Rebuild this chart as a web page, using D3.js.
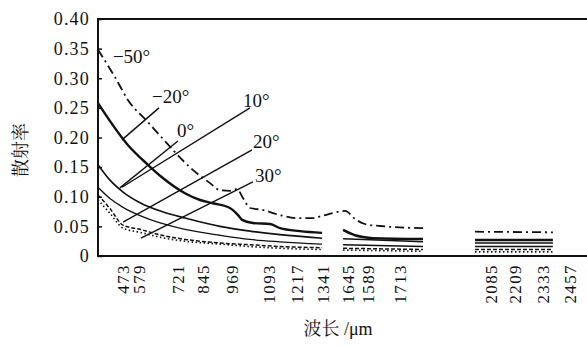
<!DOCTYPE html>
<html>
<head>
<meta charset="utf-8">
<script src="https://cdn.jsdelivr.net/npm/d3@7"></script>
<style>
  body { margin: 0; background: #fff; }
  svg { display: block; }
  text { font-family: "Liberation Serif", "Times New Roman", serif; fill: #111; }
  .cjk { font-family: "Noto Serif CJK SC", "Noto Sans CJK SC", serif; }
</style>
</head>
<body>
<svg width="587" height="346"></svg>
<script>
// wavelength (nm) where each tick label sits, and the label printed there
const tickAt = [478, 549, 724, 835, 963, 1123, 1251, 1362, 1477, 1565, 1707, 2106, 2216, 2340, 2459];
const tickLabels = ['473', '579', '721', '845', '969', '1093', '1217', '1341', '1645', '1589', '1713', '2085', '2209', '2333', '2457'];
const yTicks = [0, 0.05, 0.10, 0.15, 0.20, 0.25, 0.30, 0.35, 0.40];

// scattering rate per viewing angle, [wavelength, value]; null = removed band
const m50 = [[370,.348],[445,.302],[503,.263],[591,.226],[645,.203],[791,.145],[866,.123],[910,.111],[954,.110],[985,.113],[1012,.098],[1043,.081],[1096,.078],[1176,.069],[1251,.064],[1317,.064],[1362,.0675],[1410,.0726],[1464,.076],[1508,.0624],[1552,.054],[1619,.0506],[1809,.047],null,[2039,.041],[2384,.040]];
const m20 = [[370,.258],[503,.187],[591,.154],[653,.133],[755,.106],[822,.0945],[879,.089],[954,.081],[990,.069],[1008,.061],[1056,.0557],[1132,.054],[1176,.047],[1264,.042],[1362,.039],null,[1455,.044],[1508,.035],[1543,.032],[1588,.030],[1809,.0287],null,[2039,.027],[2384,.027]];
const p0 = [[370,.154],[423,.128],[481,.108],[556,.090],[653,.075],[755,.064],[910,.050],[1043,.042],[1176,.036],[1362,.030],null,[1455,.029],[1809,.024],null,[2039,.022],[2384,.022]];
const p10 = [[370,.116],[423,.097],[481,.082],[556,.068],[653,.055],[755,.045],[910,.035],[1043,.028],[1176,.024],[1362,.020],null,[1455,.019],[1809,.016],null,[2039,.016],[2384,.016]];
const p20 = [[370,.103],[423,.080],[481,.052],[556,.045],[653,.035],[755,.028],[910,.022],[1043,.019],[1176,.016],[1362,.014],null,[1455,.013],[1809,.011],null,[2039,.011],[2384,.011]];
const p30 = [[370,.095],[423,.072],[481,.047],[556,.040],[653,.031],[755,.025],[910,.020],[1043,.016],[1176,.013],[1362,.011],null,[1455,.010],[1809,.008],null,[2039,.007],[2384,.007]];

// curve labels: text anchor and leader line (from, to) in data units
const labels = [
  {t: '\u221250\u00b0', at: [436, .326]},
  {t: '\u221220\u00b0', at: [609, .258], from: [640, .250], to: [476, .196]},
  {t: '0\u00b0', at: [720, .201], from: [724, .194], to: [467, .115]},
  {t: '10\u00b0', at: [1012, .251], from: [1043, .250], to: [476, .116]},
  {t: '20\u00b0', at: [1056, .182], from: [1052, .179], to: [481, .057]},
  {t: '30\u00b0', at: [1065, .125], from: [1056, .125], to: [560, .030]}
];

const svg = d3.select('svg');
const mLeft = 98, mRight = 587, mTop = 19, mBottom = 256;

const x = d3.scaleLinear().domain([370, 2535]).range([mLeft, mRight]);
const y = d3.scaleLinear().domain([0, 0.4]).range([mBottom, mTop]);

// frame: left, top and bottom lines
svg.append('path')
    .attr('d', `M${mRight},${mTop}H${mLeft}V${mBottom}H${mRight}`)
    .attr('fill', 'none')
    .attr('stroke', '#111')
    .attr('stroke-width', 2);

const yAxis = svg.append('g')
    .attr('transform', `translate(${mLeft},0)`)
    .call(d3.axisLeft(y).tickValues(yTicks).tickSize(-4).tickPadding(8)
        .tickFormat(d => d === 0 ? '0' : d3.format('.2f')(d)));
yAxis.select('.domain').remove();
yAxis.selectAll('line').attr('stroke', '#111').attr('stroke-width', 1.5);
yAxis.selectAll('text').attr('font-size', 18).attr('letter-spacing', 1.2)
    .attr('font-family', '"Liberation Serif", serif');

const xAxis = svg.append('g')
    .attr('transform', `translate(0,${mBottom})`)
    .call(d3.axisBottom(x).tickValues(tickAt).tickSize(0)
        .tickFormat((d, i) => tickLabels[i]));
xAxis.select('.domain').remove();
xAxis.selectAll('text')
    .attr('transform', 'rotate(-90)')
    .attr('x', -8).attr('y', 0).attr('dy', '0.35em')
    .attr('text-anchor', 'end')
    .attr('font-size', 17).attr('letter-spacing', 1.4)
    .attr('font-family', '"Liberation Serif", serif');

const line = d3.line()
    .defined(d => d !== null)
    .x(d => x(d[0]))
    .y(d => y(d[1]))
    .curve(d3.curveMonotoneX);

const series = [
  {d: m50, w: 1.8, dash: '9,4,2,4'},
  {d: m20, w: 2.4, dash: null},
  {d: p0, w: 1.6, dash: null},
  {d: p10, w: 1.3, dash: null},
  {d: p20, w: 1.5, dash: '4,2'},
  {d: p30, w: 1.6, dash: '1.5,2.5'}
];

svg.append('g').selectAll('path')
  .data(series)
  .join('path')
    .attr('d', s => line(s.d))
    .attr('fill', 'none')
    .attr('stroke', '#111')
    .attr('stroke-width', s => s.w)
    .attr('stroke-dasharray', s => s.dash);

// leader lines and angle labels
const ann = svg.append('g');
ann.selectAll('line')
  .data(labels.filter(l => l.from))
  .join('line')
    .attr('x1', l => x(l.from[0])).attr('y1', l => y(l.from[1]))
    .attr('x2', l => x(l.to[0])).attr('y2', l => y(l.to[1]))
    .attr('stroke', '#111')
    .attr('stroke-width', 1.4);
ann.selectAll('text')
  .data(labels)
  .join('text')
    .attr('x', l => x(l.at[0]))
    .attr('y', l => y(l.at[1]))
    .attr('font-size', 19)
    .text(l => l.t);

// axis titles
svg.append('text')
    .attr('class', 'cjk')
    .attr('transform', `translate(27,150) rotate(-90)`)
    .attr('text-anchor', 'middle')
    .attr('font-size', 18)
    .text('散射率');

svg.append('text')
    .attr('x', 338).attr('y', 335)
    .attr('text-anchor', 'middle')
    .attr('font-size', 18)
    .html('<tspan class="cjk">波长</tspan> /μm');
</script>
</body>
</html>
